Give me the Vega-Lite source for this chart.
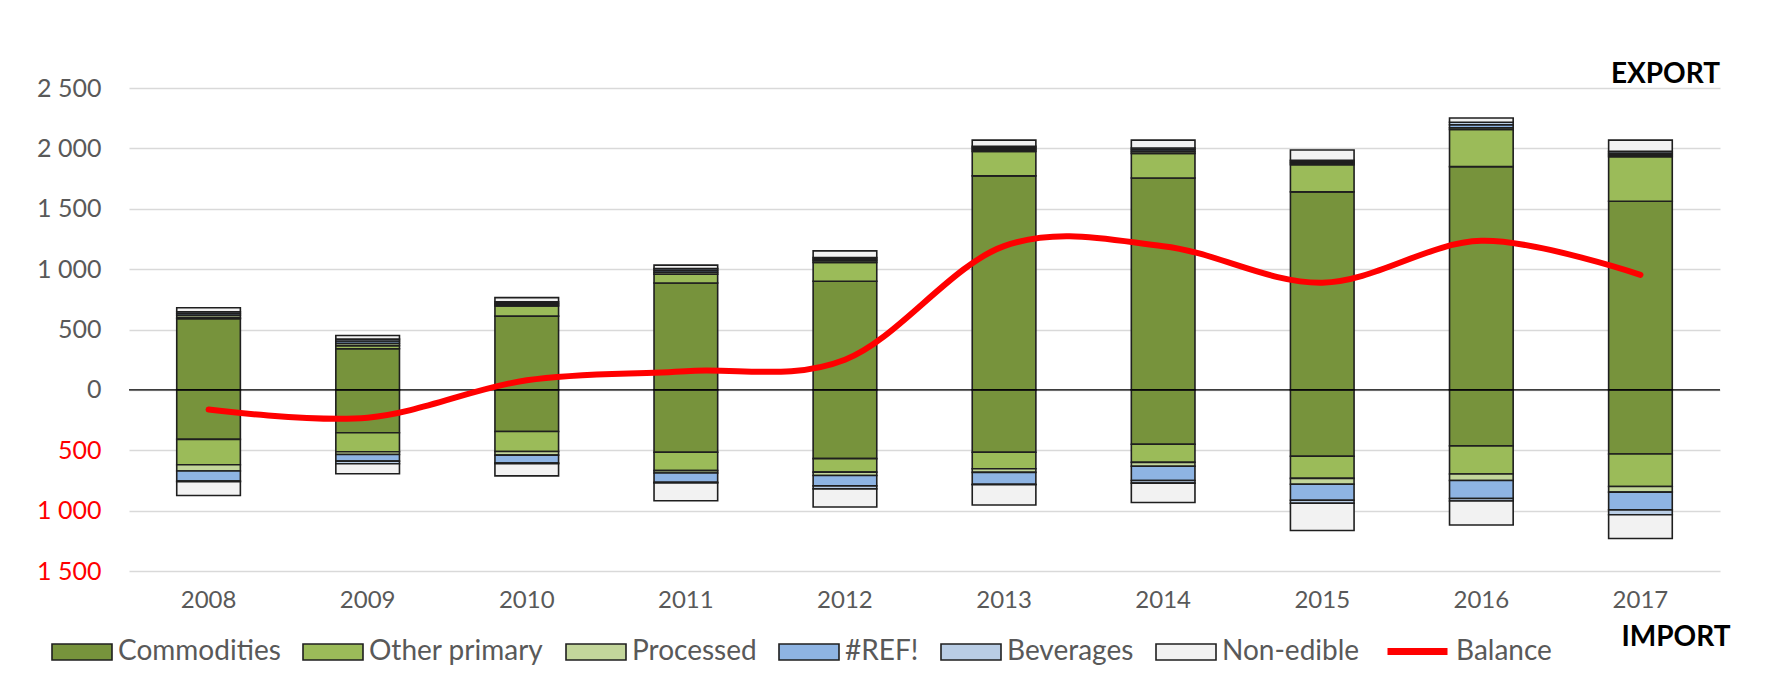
{
  "$schema": "https://vega.github.io/schema/vega-lite/v6.json",
  "width": 1591,
  "height": 483,
  "autosize": {"type": "none"},
  "padding": {"left": 129, "top": 88, "right": 45, "bottom": 115},
  "background": "white",
  "config": {"font": "Lato", "view": {"stroke": null}},
  "title": {"text": "EXPORT", "anchor": "end", "frame": "group", "orient": "top", "fontSize": 28, "fontWeight": "bold", "color": "#000000", "offset": -13, "font": "Lato"},
  "datasets": {
    "trade": [
      {"year": "2008", "series": "Commodities", "value": 589},
      {"year": "2008", "series": "Other primary", "value": 8},
      {"year": "2008", "series": "Processed", "value": 20},
      {"year": "2008", "series": "#REF!", "value": 15},
      {"year": "2008", "series": "Beverages", "value": 15},
      {"year": "2008", "series": "Non-edible", "value": 33},
      {"year": "2008", "series": "Commodities", "value": -410},
      {"year": "2008", "series": "Other primary", "value": -210},
      {"year": "2008", "series": "Processed", "value": -52},
      {"year": "2008", "series": "#REF!", "value": -83},
      {"year": "2008", "series": "Beverages", "value": -5},
      {"year": "2008", "series": "Non-edible", "value": -115},

      {"year": "2009", "series": "Commodities", "value": 340},
      {"year": "2009", "series": "Other primary", "value": 25},
      {"year": "2009", "series": "Processed", "value": 20},
      {"year": "2009", "series": "#REF!", "value": 20},
      {"year": "2009", "series": "Beverages", "value": 15},
      {"year": "2009", "series": "Non-edible", "value": 30},
      {"year": "2009", "series": "Commodities", "value": -355},
      {"year": "2009", "series": "Other primary", "value": -157},
      {"year": "2009", "series": "Processed", "value": -23},
      {"year": "2009", "series": "#REF!", "value": -55},
      {"year": "2009", "series": "Beverages", "value": -22},
      {"year": "2009", "series": "Non-edible", "value": -83},

      {"year": "2010", "series": "Commodities", "value": 611},
      {"year": "2010", "series": "Other primary", "value": 83},
      {"year": "2010", "series": "Processed", "value": 12},
      {"year": "2010", "series": "#REF!", "value": 12},
      {"year": "2010", "series": "Beverages", "value": 12},
      {"year": "2010", "series": "Non-edible", "value": 34},
      {"year": "2010", "series": "Commodities", "value": -345},
      {"year": "2010", "series": "Other primary", "value": -165},
      {"year": "2010", "series": "Processed", "value": -30},
      {"year": "2010", "series": "#REF!", "value": -65},
      {"year": "2010", "series": "Beverages", "value": -6},
      {"year": "2010", "series": "Non-edible", "value": -101},

      {"year": "2011", "series": "Commodities", "value": 885},
      {"year": "2011", "series": "Other primary", "value": 74},
      {"year": "2011", "series": "Processed", "value": 15},
      {"year": "2011", "series": "#REF!", "value": 16},
      {"year": "2011", "series": "Beverages", "value": 15},
      {"year": "2011", "series": "Non-edible", "value": 28},
      {"year": "2011", "series": "Commodities", "value": -517},
      {"year": "2011", "series": "Other primary", "value": -152},
      {"year": "2011", "series": "Processed", "value": -20},
      {"year": "2011", "series": "#REF!", "value": -76},
      {"year": "2011", "series": "Beverages", "value": -6},
      {"year": "2011", "series": "Non-edible", "value": -147},

      {"year": "2012", "series": "Commodities", "value": 899},
      {"year": "2012", "series": "Other primary", "value": 156},
      {"year": "2012", "series": "Processed", "value": 14},
      {"year": "2012", "series": "#REF!", "value": 14},
      {"year": "2012", "series": "Beverages", "value": 13},
      {"year": "2012", "series": "Non-edible", "value": 55},
      {"year": "2012", "series": "Commodities", "value": -569},
      {"year": "2012", "series": "Other primary", "value": -112},
      {"year": "2012", "series": "Processed", "value": -28},
      {"year": "2012", "series": "#REF!", "value": -86},
      {"year": "2012", "series": "Beverages", "value": -25},
      {"year": "2012", "series": "Non-edible", "value": -150},

      {"year": "2013", "series": "Commodities", "value": 1772},
      {"year": "2013", "series": "Other primary", "value": 203},
      {"year": "2013", "series": "Processed", "value": 15},
      {"year": "2013", "series": "#REF!", "value": 14},
      {"year": "2013", "series": "Beverages", "value": 14},
      {"year": "2013", "series": "Non-edible", "value": 50},
      {"year": "2013", "series": "Commodities", "value": -517},
      {"year": "2013", "series": "Other primary", "value": -136},
      {"year": "2013", "series": "Processed", "value": -30},
      {"year": "2013", "series": "#REF!", "value": -98},
      {"year": "2013", "series": "Beverages", "value": -5},
      {"year": "2013", "series": "Non-edible", "value": -167},

      {"year": "2014", "series": "Commodities", "value": 1755},
      {"year": "2014", "series": "Other primary", "value": 204},
      {"year": "2014", "series": "Processed", "value": 15},
      {"year": "2014", "series": "#REF!", "value": 15},
      {"year": "2014", "series": "Beverages", "value": 14},
      {"year": "2014", "series": "Non-edible", "value": 65},
      {"year": "2014", "series": "Commodities", "value": -450},
      {"year": "2014", "series": "Other primary", "value": -150},
      {"year": "2014", "series": "Processed", "value": -33},
      {"year": "2014", "series": "#REF!", "value": -118},
      {"year": "2014", "series": "Beverages", "value": -21},
      {"year": "2014", "series": "Non-edible", "value": -161},

      {"year": "2015", "series": "Commodities", "value": 1640},
      {"year": "2015", "series": "Other primary", "value": 225},
      {"year": "2015", "series": "Processed", "value": 13},
      {"year": "2015", "series": "#REF!", "value": 12},
      {"year": "2015", "series": "Beverages", "value": 12},
      {"year": "2015", "series": "Non-edible", "value": 84},
      {"year": "2015", "series": "Commodities", "value": -550},
      {"year": "2015", "series": "Other primary", "value": -183},
      {"year": "2015", "series": "Processed", "value": -48},
      {"year": "2015", "series": "#REF!", "value": -133},
      {"year": "2015", "series": "Beverages", "value": -25},
      {"year": "2015", "series": "Non-edible", "value": -225},

      {"year": "2016", "series": "Commodities", "value": 1849},
      {"year": "2016", "series": "Other primary", "value": 307},
      {"year": "2016", "series": "Processed", "value": 15},
      {"year": "2016", "series": "#REF!", "value": 25},
      {"year": "2016", "series": "Beverages", "value": 20},
      {"year": "2016", "series": "Non-edible", "value": 36},
      {"year": "2016", "series": "Commodities", "value": -464},
      {"year": "2016", "series": "Other primary", "value": -233},
      {"year": "2016", "series": "Processed", "value": -54},
      {"year": "2016", "series": "#REF!", "value": -149},
      {"year": "2016", "series": "Beverages", "value": -20},
      {"year": "2016", "series": "Non-edible", "value": -199},

      {"year": "2017", "series": "Commodities", "value": 1562},
      {"year": "2017", "series": "Other primary", "value": 370},
      {"year": "2017", "series": "Processed", "value": 14},
      {"year": "2017", "series": "#REF!", "value": 15},
      {"year": "2017", "series": "Beverages", "value": 15},
      {"year": "2017", "series": "Non-edible", "value": 92},
      {"year": "2017", "series": "Commodities", "value": -531},
      {"year": "2017", "series": "Other primary", "value": -269},
      {"year": "2017", "series": "Processed", "value": -47},
      {"year": "2017", "series": "#REF!", "value": -147},
      {"year": "2017", "series": "Beverages", "value": -40},
      {"year": "2017", "series": "Non-edible", "value": -197}
    ],
    "balance": [
      {"year": "2008", "series": "Balance", "value": -163},
      {"year": "2009", "series": "Balance", "value": -230},
      {"year": "2010", "series": "Balance", "value": 80},
      {"year": "2011", "series": "Balance", "value": 155},
      {"year": "2012", "series": "Balance", "value": 250},
      {"year": "2013", "series": "Balance", "value": 1190},
      {"year": "2014", "series": "Balance", "value": 1190},
      {"year": "2015", "series": "Balance", "value": 888},
      {"year": "2016", "series": "Balance", "value": 1234},
      {"year": "2017", "series": "Balance", "value": 953}
    ]
  },
  "layer": [
    {
      "data": {"name": "trade"},
      "transform": [
        {"calculate": "indexof(['Commodities','Other primary','Processed','#REF!','Beverages','Non-edible'], datum.series)", "as": "k"}
      ],
      "mark": {"type": "bar", "stroke": "#1f1f1f", "strokeWidth": 1.6},
      "encoding": {
        "x": {
          "field": "year", "type": "ordinal",
          "scale": {"paddingInner": 0.6, "paddingOuter": 0.3},
          "axis": {
            "title": "IMPORT", "titleX": 1601, "titleAlign": "right", "titleFontSize": 28, "titleFontWeight": "bold",
            "titleColor": "#000000", "titlePadding": 11,
            "labelFontSize": 24, "labelColor": "#595959", "labelPadding": 17, "labelAngle": 0,
            "domain": false, "ticks": false, "grid": false
          }
        },
        "y": {
          "field": "value", "type": "quantitative", "stack": "zero",
          "scale": {"domain": [-1500, 2500], "nice": false},
          "axis": {
            "title": null,
            "values": [-1500, -1000, -500, 0, 500, 1000, 1500, 2000, 2500],
            "labelExpr": "datum.value == 0 ? '0' : replace(format(abs(datum.value), ','), ',', ' ')",
            "labelFontSize": 25,
            "labelColor": {"condition": {"test": "datum.value < 0", "value": "#FF0000"}, "value": "#595959"},
            "labelPadding": 28,
            "domain": false, "ticks": false,
            "gridColor": "#D9D9D9", "gridWidth": 1.5
          }
        },
        "fill": {
          "field": "series", "type": "nominal",
          "scale": {
            "domain": ["Commodities", "Other primary", "Processed", "#REF!", "Beverages", "Non-edible"],
            "range": ["#77933C", "#9BBB59", "#C3D69B", "#8EB4E3", "#B9CDE5", "#F2F2F2"]
          },
          "legend": {
            "orient": "none", "legendX": -78, "legendY": 533, "direction": "horizontal", "title": null,
            "symbolType": "M-1,-0.2667H1V0.2667H-1Z", "symbolSize": 3600,
            "symbolStrokeColor": "#1f1f1f", "symbolStrokeWidth": 1.6,
            "labelFontSize": 28, "labelColor": "#595959", "labelOffset": 5,
            "columnPadding": 18, "labelLimit": 400
          }
        },
        "order": {"field": "k", "type": "quantitative"}
      }
    },
    {
      "data": {"values": [{}]},
      "mark": {"type": "rule", "color": "#000000", "strokeWidth": 1.3},
      "encoding": {"y": {"datum": 0}}
    },
    {
      "data": {"name": "balance"},
      "mark": {"type": "line", "interpolate": "cardinal", "strokeWidth": 6, "strokeCap": "round"},
      "encoding": {
        "x": {"field": "year", "type": "ordinal"},
        "y": {"field": "value", "type": "quantitative"},
        "stroke": {
          "field": "series", "type": "nominal",
          "scale": {"domain": ["Balance"], "range": ["#FF0000"]},
          "legend": {
            "orient": "none", "legendX": 1255, "legendY": 530, "title": null,
            "symbolType": "stroke", "symbolSize": 3600, "symbolStrokeWidth": 7,
            "labelFontSize": 28, "labelColor": "#595959", "labelOffset": 5, "labelLimit": 400
          }
        }
      }
    }
  ]
}
